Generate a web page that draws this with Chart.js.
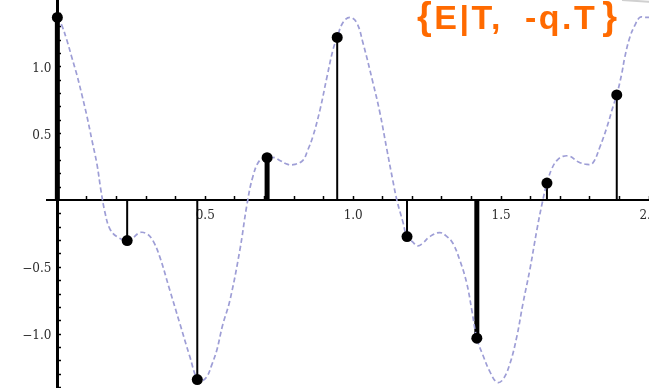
<!DOCTYPE html>
<html><head><meta charset="utf-8">
<script src="https://cdn.jsdelivr.net/npm/chart.js@4.4.1/dist/chart.umd.min.js"></script>
<style>
html,body{margin:0;padding:0;background:#fff;overflow:hidden;}
#wrap{position:relative;width:649px;height:388px;overflow:hidden;}
canvas{position:absolute;left:0;top:0;}
#title{position:absolute;left:417px;top:-4px;font-family:"Liberation Sans",Arial,sans-serif;font-weight:bold;font-size:34px;color:#ff6a00;white-space:nowrap;letter-spacing:2.5px;word-spacing:10px;line-height:40px;}
.br{font-size:38px;}
#edge{position:absolute;left:622px;top:0px;width:30px;height:1.5px;background:#d0d0d0;transform:rotate(4deg);}
</style></head>
<body><div id="wrap"><canvas id="c" width="649" height="388"></canvas><div id="title"><span class="br">{</span>E|T, -q.T<span class="br" style="margin-left:5px">}</span></div><div id="edge"></div></div>
<script>
// Sampled (stem) values
const stemX = [0, 0.236, 0.473, 0.709, 0.946, 1.182, 1.418, 1.655, 1.891];
const stemY = [1.37, -0.30, -1.34, 0.32, 1.22, -0.27, -1.03, 0.13, 0.79];

// Continuous curve
const curveX = [0.000,0.015,0.032,0.049,0.066,0.083,0.100,0.117,0.134,0.147,0.161,0.177,0.201,0.237,0.255,0.279,0.303,0.323,0.346,0.380,0.414,0.448,0.473,0.488,0.505,0.522,0.539,0.559,0.583,0.617,0.641,0.661,0.684,0.709,0.735,0.752,0.779,0.803,0.830,0.847,0.864,0.888,0.911,0.932,0.946,0.965,0.989,1.012,1.033,1.067,1.090,1.114,1.134,1.148,1.168,1.182,1.201,1.218,1.235,1.259,1.293,1.317,1.337,1.361,1.384,1.401,1.418,1.439,1.462,1.486,1.506,1.530,1.553,1.574,1.597,1.621,1.638,1.655,1.672,1.689,1.709,1.733,1.760,1.790,1.810,1.834,1.858,1.878,1.891,1.908,1.918,1.935,1.952,1.969,1.986,2.000];
const curveY = [1.37,1.31,1.20,1.07,0.94,0.79,0.63,0.45,0.27,0.08,-0.09,-0.21,-0.27,-0.30,-0.28,-0.24,-0.25,-0.30,-0.42,-0.67,-0.92,-1.17,-1.34,-1.35,-1.32,-1.23,-1.12,-0.93,-0.75,-0.37,-0.03,0.18,0.30,0.32,0.32,0.30,0.27,0.27,0.30,0.38,0.48,0.68,0.92,1.13,1.22,1.33,1.37,1.33,1.18,0.88,0.66,0.38,0.15,0.00,-0.16,-0.27,-0.31,-0.34,-0.32,-0.27,-0.24,-0.27,-0.32,-0.45,-0.62,-0.82,-1.03,-1.16,-1.28,-1.36,-1.34,-1.22,-1.02,-0.77,-0.52,-0.22,-0.03,0.13,0.24,0.30,0.33,0.33,0.29,0.27,0.28,0.40,0.55,0.70,0.79,0.95,1.07,1.22,1.31,1.37,1.37,1.37];

// Ticks
const xTicks = [0.1,0.2,0.3,0.4,0.5,0.6,0.7,0.8,0.9,1.0,1.1,1.2,1.3,1.4,1.5,1.6,1.7,1.8,1.9,2.0];
const xMajorTicks = [0.5, 1.0, 1.5, 2.0];
const xMajorLabels = ['0.5', '1.0', '1.5', '2.0'];
const yTicks = [-1.4,-1.3,-1.2,-1.1,-1.0,-0.9,-0.8,-0.7,-0.6,-0.5,-0.4,-0.3,-0.2,-0.1,0.1,0.2,0.3,0.4,0.5,0.6,0.7,0.8,0.9,1.0,1.1,1.2,1.3,1.4];
const yMajorTicks = [-1.0, -0.5, 0.5, 1.0];
const yMajorLabels = ['\u22121.0', '\u22120.5', '0.5', '1.0'];

function labelFor(v, majors, labels) {
  const i = majors.findIndex(m => Math.abs(m - v) < 1e-6);
  return i >= 0 ? labels[i] : '';
}

const curveData = curveX.map((x, i) => ({x: x, y: curveY[i]}));
const pointData = stemX.map((x, i) => ({x: x, y: stemY[i]}));
const stemData = [];
stemX.forEach((x, i) => { stemData.push({x: x, y: 0}, {x: x, y: stemY[i]}, {x: x, y: null}); });

const tickFont = {family: '"DejaVu Serif", serif', size: 12};
const zeroPad = s => { s.paddingLeft = 0; s.paddingRight = 0; s.paddingTop = 0; s.paddingBottom = 0; };

new Chart(document.getElementById('c'), {
  type: 'scatter',
  data: {
    datasets: [
      {
        type: 'scatter', data: pointData, pointRadius: 5.5, pointHoverRadius: 5.5,
        backgroundColor: '#000', borderColor: '#000', borderWidth: 0, order: 1
      },
      {
        type: 'line', data: stemData, spanGaps: false, pointRadius: 0, borderColor: '#000',
        borderWidth: 2, order: 3,
        segment: { borderWidth: ctx => (Math.floor(ctx.p0DataIndex / 3) % 3 === 0 ? 5 : 2) }
      },
      {
        type: 'line', data: curveData, pointRadius: 0, borderColor: '#9e9ed6', borderWidth: 1.7,
        borderDash: [5, 3], tension: 0.4, order: 2
      }
    ]
  },
  options: {
    responsive: false, animation: false, events: [],
    layout: {padding: {left: 47, right: 0, top: 0, bottom: 0}, autoPadding: false},
    plugins: {legend: {display: false}, tooltip: {enabled: false}, title: {display: false}},
    scales: {
      x: {
        type: 'linear', position: {y: 0}, min: -0.035, max: 2.0,
        afterBuildTicks: s => { s.ticks = xTicks.map(v => ({value: v})); },
        afterFit: zeroPad,
        ticks: {
          autoSkip: false, maxRotation: 0, padding: 13, color: '#2b2b2b', font: tickFont,
          callback: v => labelFor(v, xMajorTicks, xMajorLabels)
        },
        grid: {drawOnChartArea: false, drawTicks: true, tickLength: -5, tickWidth: 1.5, tickColor: '#000'},
        border: {display: true, color: '#000', width: 2}
      },
      y: {
        type: 'linear', position: {x: 0}, min: -1.403, max: 1.5,
        afterBuildTicks: s => { s.ticks = yTicks.map(v => ({value: v})); },
        afterFit: zeroPad,
        ticks: {
          autoSkip: false, padding: 15, labelOffset: 2, color: '#2b2b2b', font: tickFont,
          callback: v => { const t = labelFor(v, yMajorTicks, yMajorLabels); return t ? t + '\u2002' : ''; }
        },
        grid: {drawOnChartArea: false, drawTicks: true, tickLength: -5, tickWidth: 1.5, tickColor: '#000'},
        border: {display: true, color: '#000', width: 3}
      }
    }
  }
});
</script>
</body></html>
